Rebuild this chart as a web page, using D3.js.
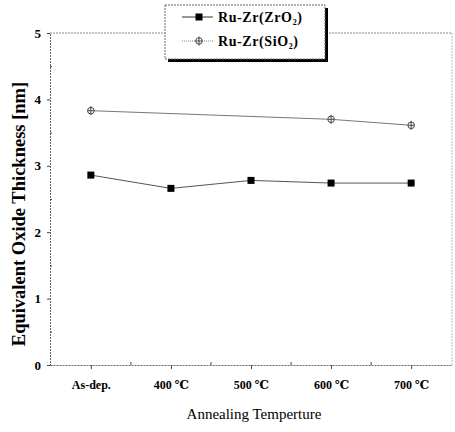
<!DOCTYPE html>
<html>
<head>
<meta charset="utf-8">
<script src="https://cdn.jsdelivr.net/npm/d3@7"></script>
<style>
  body { margin: 0; background: #fff; }
  svg text { font-family: "Liberation Serif", "Times New Roman", "DejaVu Serif", serif; }
</style>
</head>
<body>
<div id="chart"></div>
<script>
// données
const categories = ["As-dep.", "400 ℃", "500 ℃", "600 ℃", "700 ℃"];
const zro2Values = [2.86, 2.66, 2.78, 2.74, 2.74];
const sio2Values = [3.83, null, null, 3.70, 3.61];
const yTicks = [0, 1, 2, 3, 4, 5];
const seriesNames = ["Ru-Zr(ZrO", "Ru-Zr(SiO"];

const W = 455, H = 432;
const plotLeft = 50, plotRight = 452, plotTop = 33, plotBottom = 365;

const svg = d3.select("#chart").append("svg")
    .attr("width", W).attr("height", H);

const x = d3.scalePoint().domain(categories).range([plotLeft, plotRight]).padding(0.51);
const y = d3.scaleLinear().domain([0, 5]).range([plotBottom, plotTop]);

// cadre pointillé gris
const frame = svg.append("g").attr("stroke", "#888").attr("stroke-width", 1)
    .attr("stroke-dasharray", "2,1").attr("fill", "none");
frame.append("line").attr("x1", plotLeft).attr("x2", plotRight).attr("y1", plotTop).attr("y2", plotTop);
frame.append("line").attr("x1", plotRight).attr("x2", plotRight).attr("y1", plotTop).attr("y2", plotBottom).attr("stroke", "#bbb");

// axe Y
const yAxis = svg.append("g").attr("transform", `translate(${plotLeft},0)`)
    .call(d3.axisLeft(y).tickValues(yTicks).tickSize(3).tickFormat(d3.format("d")));
yAxis.attr("font-family", null);
yAxis.select(".domain").attr("stroke", "#666").attr("stroke-dasharray", "2,1");
yAxis.selectAll(".tick line").attr("stroke", "#444");
yAxis.selectAll("text").attr("font-size", 13).attr("font-weight", "bold").attr("fill", "#000").attr("x", -9);
svg.append("g").attr("transform", `translate(${plotLeft},0)`)
    .call(d3.axisRight(y).tickValues(d3.range(0.5, 5, 1)).tickSize(2).tickFormat(""))
    .call(g => g.select(".domain").remove())
    .selectAll("line").attr("stroke", "#444");

// axe X
const xAxis = svg.append("g").attr("transform", `translate(0,${plotBottom})`)
    .call(d3.axisBottom(x).tickSize(4).tickSizeOuter(0));
xAxis.attr("font-family", null);
xAxis.select(".domain").attr("stroke", "#666").attr("stroke-dasharray", "2,1");
xAxis.selectAll(".tick line").attr("stroke", "#444");
xAxis.selectAll("text").attr("font-size", 12).attr("font-weight", "bold").attr("fill", "#000").attr("dy", "1.45em");
svg.append("g").selectAll("line")
    .data(categories.slice(1))
    .enter().append("line")
    .attr("x1", d => x(d) - x.step() / 2).attr("x2", d => x(d) - x.step() / 2)
    .attr("y1", plotBottom).attr("y2", plotBottom - 3)
    .attr("stroke", "#444");

// titres d'axes
svg.append("text")
    .attr("transform", `translate(19,214) rotate(-90)`)
    .attr("text-anchor", "middle")
    .attr("dy", "0.35em")
    .attr("font-size", 18.5).attr("font-weight", "bold")
    .text("Equivalent Oxide Thickness [nm]");
svg.append("text")
    .attr("x", 254).attr("y", 419)
    .attr("text-anchor", "middle")
    .attr("font-size", 15)
    .text("Annealing Temperture");

// séries
const zroData = categories.map((c, i) => ({ c, v: zro2Values[i] }));
const sioData = categories.map((c, i) => ({ c, v: sio2Values[i] })).filter(d => d.v !== null);
const line = d3.line().x(d => x(d.c)).y(d => y(d.v));

svg.append("path").datum(zroData).attr("d", line)
    .attr("fill", "none").attr("stroke", "#555").attr("stroke-width", 1);
svg.append("path").datum(sioData).attr("d", line)
    .attr("fill", "none").attr("stroke", "#777").attr("stroke-width", 1);

svg.selectAll(".sq").data(zroData).enter().append("rect")
    .attr("class", "sq")
    .attr("x", d => x(d.c) - 3.5).attr("y", d => y(d.v) - 3.5)
    .attr("width", 7).attr("height", 7).attr("fill", "#000");

function crossCircle(g, cx, cy) {
    g.append("circle").attr("cx", cx).attr("cy", cy).attr("r", 3.3)
        .attr("fill", "#fff").attr("stroke", "#444").attr("stroke-width", 1);
    g.append("line").attr("x1", cx).attr("x2", cx).attr("y1", cy - 4.5).attr("y2", cy + 4.5)
        .attr("stroke", "#444");
    g.append("line").attr("x1", cx - 3.3).attr("x2", cx + 3.3).attr("y1", cy).attr("y2", cy)
        .attr("stroke", "#444");
}
const sioMarks = svg.append("g");
sioData.forEach(d => crossCircle(sioMarks, x(d.c), y(d.v)));

// légende avec ombre
const lg = svg.append("g");
lg.append("rect").attr("x", 168).attr("y", 8).attr("width", 160).attr("height", 54).attr("fill", "#000");
lg.append("rect").attr("x", 165).attr("y", 5).attr("width", 160).attr("height", 54)
    .attr("fill", "#fff").attr("stroke", "#666").attr("stroke-dasharray", "2,1");

const rows = [17, 41];
lg.append("line").attr("x1", 182).attr("x2", 213).attr("y1", rows[0]).attr("y2", rows[0]).attr("stroke", "#333");
lg.append("rect").attr("x", 195.5).attr("y", rows[0] - 3.5).attr("width", 7).attr("height", 7).attr("fill", "#000");
lg.append("line").attr("x1", 182).attr("x2", 213).attr("y1", rows[1]).attr("y2", rows[1]).attr("stroke", "#888").attr("stroke-dasharray", "1,1");
crossCircle(lg, 199, rows[1]);

seriesNames.forEach((n, i) => {
    const t = lg.append("text").attr("x", 218).attr("y", rows[i] + 5)
        .attr("font-size", 14).attr("font-weight", "bold").attr("letter-spacing", 0.6);
    t.append("tspan").text(n);
    t.append("tspan").attr("font-size", 8).attr("dy", 3).text("2");
    t.append("tspan").attr("dy", -3).text(")");
});
</script>
</body>
</html>
